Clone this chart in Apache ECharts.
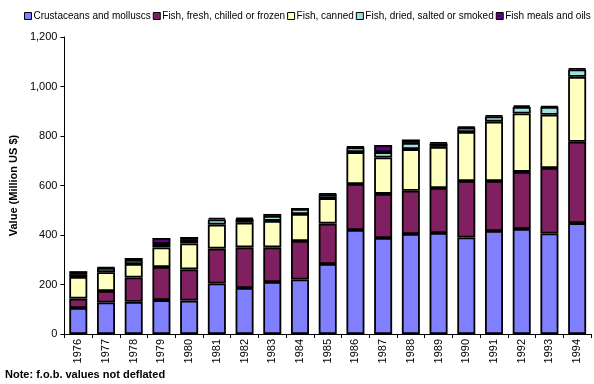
<!DOCTYPE html>
<html>
<head>
<meta charset="utf-8" />
<title>Fish exports</title>
<script src="https://cdn.jsdelivr.net/npm/echarts@6/dist/echarts.min.js"></script>
<style>
	html, body { margin: 0; padding: 0; background: #fff; }
	#chart { width: 594px; height: 384px; }
</style>
</head>
<body>
<div id="chart"></div>
<script type="text/javascript">
	var years = ['1976', '1977', '1978', '1979', '1980', '1981', '1982', '1983', '1984', '1985',
		'1986', '1987', '1988', '1989', '1990', '1991', '1992', '1993', '1994'];
	var crustaceans = [105, 127, 130, 137, 135, 204, 186, 210, 220, 283, 420, 388, 404, 408, 390, 416, 424, 406, 448];
	var fresh = [38, 47, 98, 134, 126, 141, 164, 140, 156, 163, 186, 178, 175, 182, 228, 202, 231, 265, 329];
	var canned = [87, 76, 55, 79, 105, 97, 100, 107, 109, 103, 129, 147, 168, 166, 198, 240, 236, 215, 262];
	var dried = [12, 17, 16, 14, 14, 21, 15, 20, 20, 16, 19, 22, 25, 14, 18, 21, 26, 31, 30];
	var meals = [12, 3, 8, 24, 12, 6, 4, 8, 0, 3, 3, 29, 14, 4, 4, 4, 7, 4, 4];
	var seriesNames = ['Crustaceans and molluscs', 'Fish, fresh, chilled or frozen', 'Fish, canned',
		'Fish, dried, salted or smoked', 'Fish meals and oils'];
	var seriesColors = ['#8080ff', '#802060', '#ffffc0', '#a0e0e0', '#600080'];

	var font = 'Liberation Sans';
	var chart = echarts.init(document.getElementById('chart'), null, { renderer: 'canvas' });

	function bar(i, values) {
		return {
			name: seriesNames[i],
			type: 'bar',
			stack: 'total',
			barCategoryGap: '35%',
			data: values,
			itemStyle: { color: seriesColors[i], borderColor: '#000', borderWidth: 1.8 }
		};
	}

	var option = {
		animation: false,
		legend: {
			left: 24,
			width: 570,
			top: 11,
			padding: 0,
			itemWidth: 7,
			itemHeight: 7,
			itemGap: 2,
			icon: 'rect',
			textStyle: { fontFamily: font, fontSize: 10, color: '#000', padding: [0, 0, 0, -3] },
			data: seriesNames.map(function (n) {
				return { name: n, itemStyle: { borderColor: '#000', borderWidth: 1 } };
			})
		},
		grid: { left: 64, right: 3, top: 37, bottom: 50 },
		xAxis: {
			type: 'category',
			data: years,
			axisLine: { lineStyle: { color: '#000', width: 1 } },
			axisTick: { show: true, length: 4, lineStyle: { color: '#000' } },
			axisLabel: { rotate: 90, fontFamily: font, fontSize: 11, color: '#000', margin: 5 }
		},
		yAxis: {
			type: 'value',
			min: 0,
			max: 1200,
			interval: 200,
			name: 'Value (Million US $)',
			nameLocation: 'middle',
			nameRotate: 90,
			nameGap: 41,
			nameTextStyle: { fontFamily: font, fontSize: 11, fontWeight: 'bold', color: '#000' },
			splitLine: { show: false },
			axisLine: { show: true, lineStyle: { color: '#000', width: 1 } },
			axisTick: { show: true, length: 4, lineStyle: { color: '#000' } },
			axisLabel: {
				fontFamily: font, fontSize: 11, color: '#000', margin: 7,
				formatter: function (v) { return v.toLocaleString('en-US'); }
			}
		},
		graphic: [{
			type: 'text',
			left: 5,
			top: 369,
			style: { text: 'Note: f.o.b. values not deflated', font: 'bold 11px ' + font, fill: '#000' }
		}],
		series: [
			bar(0, crustaceans),
			bar(1, fresh),
			bar(2, canned),
			bar(3, dried),
			bar(4, meals)
		]
	};
	chart.setOption(option);
</script>
</body>
</html>
